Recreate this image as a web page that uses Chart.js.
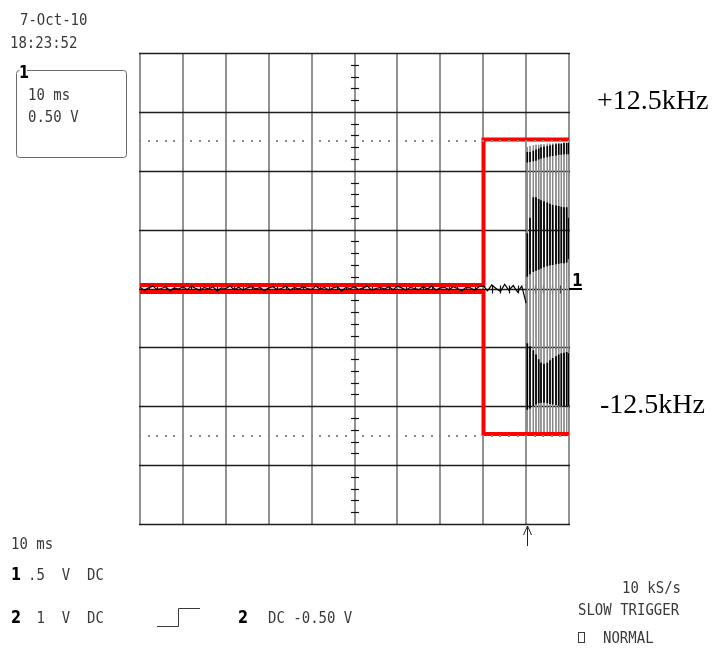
<!DOCTYPE html>
<html>
<head>
<meta charset="utf-8">
<script src="https://cdn.jsdelivr.net/npm/chart.js@4.4.0/dist/chart.umd.min.js"></script>
<style>
html, body { margin: 0; padding: 0; background: #fff; }
</style>
</head>
<body>
<canvas id="scope" width="716" height="648"></canvas>
<script>
// time axis in ms (10 ms/div), vertical axis in divisions (-4..4)

// red limit trace (upper and lower edge)
const redUpT = [0, 80.07, 80.07, 100];
const redUpY = [0.06, 0.06, 2.53, 2.53];
const redLoT = [0, 80.07, 80.07, 100];
const redLoY = [-0.06, -0.06, -2.47, -2.47];

// channel 1 noise before the burst, one sample per ms from 0 to 90 ms
const noiseY = [
  0.02, -0.03, 0.01, 0.04, -0.02, 0.00, 0.03, -0.04, 0.01, -0.01,
  0.03, -0.02, 0.04, 0.00, -0.03, 0.02, -0.01, 0.03, -0.04, 0.01,
  0.00, 0.04, -0.02, 0.02, -0.03, 0.01, 0.03, -0.01, 0.02, -0.04,
  0.01, 0.03, -0.02, 0.00, 0.04, -0.03, 0.02, -0.01, 0.03, 0.00,
  -0.02, 0.04, -0.01, 0.02, -0.03, 0.01, 0.03, -0.04, 0.02, 0.00,
  0.03, -0.02, 0.01, 0.04, -0.03, 0.00, 0.02, -0.01, 0.03, -0.02,
  0.04, 0.01, -0.03, 0.02, 0.00, -0.02, 0.03, -0.01, 0.04, -0.03,
  0.01, 0.02, -0.02, 0.03, 0.00, -0.04, 0.02, 0.01, -0.03, 0.03,
  0.05, -0.04, 0.06, 0.00, -0.05, 0.07, -0.03, 0.05, -0.06, 0.04,
  -0.25
];

// burst after the trigger: one vertical stroke per entry
const oscT      = [90.28, 90.91, 91.68, 92.31, 92.94, 93.47, 94.17, 94.94, 95.57, 96.20, 96.97, 97.60, 98.21, 98.83, 99.46, 99.95];
const strokeTop = [2.40, 2.42, 2.43, 2.44, 2.44, 2.45, 2.45, 2.46, 2.46, 2.46, 2.47, 2.47, 2.47, 2.48, 2.48, 2.48];
const strokeBot = [-2.45, -2.45, -2.46, -2.46, -2.46, -2.46, -2.46, -2.46, -2.46, -2.46, -2.46, -2.46, -2.46, -2.46, -2.46, -2.46];
const capHi     = [2.32, 2.32, 2.34, 2.36, 2.38, 2.40, 2.41, 2.42, 2.43, 2.44, 2.45, 2.46, 2.46, 2.47, 2.47, 2.47];
const capLo     = [2.14, 2.15, 2.16, 2.17, 2.19, 2.21, 2.22, 2.23, 2.24, 2.25, 2.26, 2.27, 2.27, 2.28, 2.28, 2.28];
const upHi      = [0.94, 1.20, 1.55, 1.55, 1.52, 1.50, 1.48, 1.46, 1.44, 1.42, 1.41, 1.40, 1.39, 1.38, 1.38, 1.20];
const upLo      = [0.20, 0.24, 0.28, 0.30, 0.32, 0.34, 0.36, 0.38, 0.39, 0.40, 0.41, 0.42, 0.43, 0.43, 0.44, 0.50];
const dnHi      = [-0.93, -0.98, -1.05, -1.12, -1.20, -1.26, -1.28, -1.26, -1.22, -1.18, -1.15, -1.12, -1.10, -1.09, -1.08, -1.10];
const dnLo      = [-2.06, -2.04, -2.00, -1.97, -1.95, -1.94, -1.94, -1.95, -1.96, -1.97, -1.98, -1.99, -2.00, -2.01, -2.01, -2.00];

function pts(t, v) { return t.map((x, i) => ({ x: x, y: v[i] })); }
function segs(t, hi, lo) {
    const out = [];
    t.forEach((x, i) => { out.push({ x: x, y: hi[i] }, { x: x, y: lo[i] }, { x: x, y: null }); });
    return out;
}

const noisePts = noiseY.map((v, i) => ({ x: i, y: v }));

const scopeFrame = {
    id: 'scopeFrame',
    beforeDatasetsDraw(chart) {
        const { ctx, chartArea: a, scales: { x, y } } = chart;
        ctx.save();
        // vertical divisions (gray)
        ctx.strokeStyle = '#929292';
        ctx.lineWidth = 2;
        for (let i = 0; i <= 10; i++) {
            const px = Math.round(x.getPixelForValue(i * 10));
            ctx.beginPath(); ctx.moveTo(px, a.top); ctx.lineTo(px, a.bottom); ctx.stroke();
        }
        // horizontal divisions (black)
        ctx.strokeStyle = '#1e1e1e';
        ctx.lineWidth = 1.3;
        for (let j = -4; j <= 4; j++) {
            const py = Math.round(y.getPixelForValue(j)) + 0.5;
            ctx.beginPath(); ctx.moveTo(a.left - 1, py); ctx.lineTo(a.right + 1, py); ctx.stroke();
        }
        // minor ticks on the centre axes
        const cx = Math.round(x.getPixelForValue(50));
        const cy = Math.round(y.getPixelForValue(0)) + 0.5;
        ctx.strokeStyle = '#111';
        ctx.lineWidth = 1.2;
        for (let k = -20; k <= 20; k++) {
            if (k % 5 === 0) continue;
            const py = Math.round(y.getPixelForValue(k * 0.2)) + 0.5;
            ctx.beginPath(); ctx.moveTo(cx - 4, py); ctx.lineTo(cx + 4, py); ctx.stroke();
        }
        for (let k = 0; k <= 50; k++) {
            if (k % 5 === 0) continue;
            const px = Math.round(x.getPixelForValue(k * 2)) + 0.5;
            ctx.beginPath(); ctx.moveTo(px, cy - 4); ctx.lineTo(px, cy + 4); ctx.stroke();
        }
        ctx.restore();
    },
    afterDatasetsDraw(chart) {
        const { ctx, chartArea: a, scales: { x, y } } = chart;
        ctx.save();
        // dotted reference levels
        ctx.fillStyle = '#8a8a8a';
        [2.5, -2.5].forEach(lv => {
            const py = Math.round(y.getPixelForValue(lv));
            for (let k = 0; k <= 50; k++) {
                const px = Math.round(x.getPixelForValue(k * 2));
                ctx.fillRect(px - 1, py - 1, 2, 2);
            }
        });
        // channel 1 ground marker
        const gy = Math.round(y.getPixelForValue(0));
        ctx.fillStyle = '#000';
        ctx.fillRect(a.right, gy - 1, 13, 2);
        ctx.font = 'bold 17px "DejaVu Sans Condensed", "DejaVu Sans"';
        ctx.fillText('1', a.right + 3, gy - 3);
        // trigger arrow
        const tx = Math.round(x.getPixelForValue(90.15)) + 0.5;
        ctx.strokeStyle = '#222';
        ctx.lineWidth = 1;
        ctx.beginPath();
        ctx.moveTo(tx, a.bottom + 2); ctx.lineTo(tx, a.bottom + 22);
        ctx.moveTo(tx - 4, a.bottom + 11); ctx.lineTo(tx, a.bottom + 2); ctx.lineTo(tx + 4, a.bottom + 11);
        ctx.stroke();
        ctx.restore();
    },
    afterDraw(chart) {
        const { ctx } = chart;
        const mono = '14px "DejaVu Sans Mono"';
        const grey = '#3a3a3a';
        function txt(s, x, y, font, color, sy) {
            ctx.save();
            ctx.font = font; ctx.fillStyle = color; ctx.textBaseline = 'alphabetic';
            ctx.translate(x, y); ctx.scale(1, sy || 1.18);
            ctx.fillText(s, 0, 0);
            ctx.restore();
        }
        // header
        txt('7-Oct-10', 20, 25, mono, grey);
        txt('18:23:52', 10, 48, mono, grey);
        // channel box
        ctx.save();
        ctx.strokeStyle = '#6a6a6a';
        ctx.lineWidth = 1;
        ctx.beginPath();
        ctx.moveTo(27, 70.5); ctx.lineTo(123, 70.5); ctx.arcTo(126.5, 70.5, 126.5, 74, 3);
        ctx.lineTo(126.5, 154); ctx.arcTo(126.5, 157.5, 123, 157.5, 3);
        ctx.lineTo(20, 157.5); ctx.arcTo(16.5, 157.5, 16.5, 154, 3);
        ctx.lineTo(16.5, 74); ctx.arcTo(16.5, 70.5, 19, 70.5, 3);
        ctx.stroke();
        ctx.restore();
        txt('1', 19, 78, 'bold 16px "DejaVu Sans Condensed", "DejaVu Sans"', '#000', 1.1);
        txt('10 ms', 28, 100, mono, grey);
        txt('0.50 V', 28, 122, mono, grey);
        // frequency labels
        txt('+12.5kHz', 597, 109, '28px "Liberation Serif"', '#000', 1);
        txt('-12.5kHz', 600, 413, '28px "Liberation Serif"', '#000', 1);
        // bottom status
        txt('10 ms', 11, 549, mono, grey);
        txt('1', 11, 580, 'bold 16px "DejaVu Sans Condensed", "DejaVu Sans"', '#000', 1.1);
        txt('.5  V  DC', 28, 580, mono, grey);
        txt('2', 11, 623, 'bold 16px "DejaVu Sans Condensed", "DejaVu Sans"', '#000', 1.1);
        txt(' 1  V  DC', 28, 623, mono, grey);
        txt('2', 238, 623, 'bold 16px "DejaVu Sans Condensed", "DejaVu Sans"', '#000', 1.1);
        txt('DC -0.50 V', 268, 623, mono, grey);
        txt('10 kS/s', 622, 593, mono, grey);
        txt('SLOW TRIGGER', 578, 615, mono, grey);
        txt('NORMAL', 603, 643, mono, grey);
        ctx.save();
        ctx.strokeStyle = grey; ctx.lineWidth = 1;
        // trigger slope symbol
        ctx.beginPath();
        ctx.moveTo(157, 626.5); ctx.lineTo(178.5, 626.5); ctx.lineTo(178.5, 608.5); ctx.lineTo(200, 608.5);
        ctx.stroke();
        // mode box
        ctx.strokeRect(578.5, 632.5, 6, 10);
        ctx.restore();
    }
};

new Chart(document.getElementById('scope').getContext('2d'), {
    type: 'line',
    data: {
        datasets: [
            { data: noisePts, borderColor: '#000', borderWidth: 1.2, order: 0 },
            { data: segs(oscT, capHi, capLo), borderColor: '#000', borderWidth: 1.6, order: 0 },
            { data: segs(oscT, upHi, upLo), borderColor: '#000', borderWidth: 1.7, order: 0 },
            { data: segs(oscT, dnHi, dnLo), borderColor: '#000', borderWidth: 1.7, order: 0 },
            { data: segs(oscT, strokeTop, strokeBot), borderColor: '#8a8a8a', borderWidth: 1, order: 2 },
            { data: pts(redUpT, redUpY), borderColor: '#ff0000', borderWidth: 4, order: 1, borderJoinStyle: 'miter' },
            { data: pts(redLoT, redLoY), borderColor: '#ff0000', borderWidth: 4, order: 1, borderJoinStyle: 'miter' }
        ]
    },
    options: {
        responsive: false,
        animation: false,
        spanGaps: false,
        layout: { padding: { left: 140, right: 147, top: 53, bottom: 124 } },
        elements: { point: { radius: 0 }, line: { tension: 0 } },
        scales: {
            x: { type: 'linear', min: 0, max: 100, display: false },
            y: { type: 'linear', min: -4, max: 4, display: false }
        },
        plugins: { legend: { display: false }, tooltip: { enabled: false } }
    },
    plugins: [scopeFrame]
});
</script>
</body>
</html>
